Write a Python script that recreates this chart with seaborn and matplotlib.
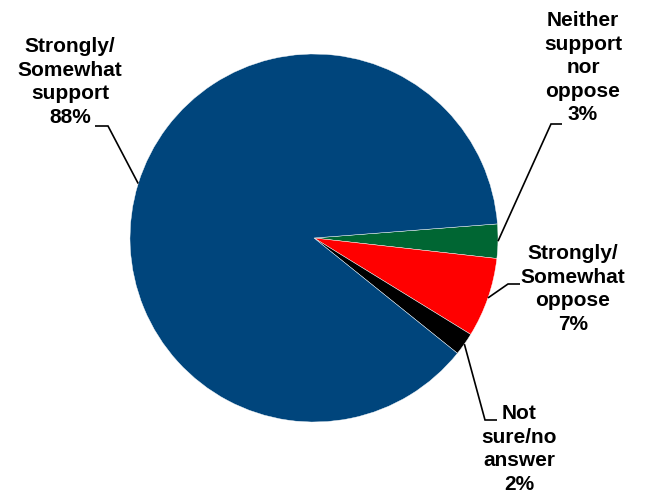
import numpy as np
import matplotlib
matplotlib.use("Agg")
import matplotlib.pyplot as plt
import seaborn as sns

# Data
labels = ["Neither\nsupport\nnor\noppose\n3%",
          "Strongly/\nSomewhat\noppose\n7%",
          "Not\nsure/no\nanswer\n2%",
          "Strongly/\nSomewhat\nsupport\n88%"]
values = [3, 7, 2, 88]
colors = ["#006633", "#FF0000", "#000000", "#00457C"]

sns.set_theme(style="white")
plt.rcParams['font.family'] = ['Liberation Sans', 'DejaVu Sans']

W, H = 645, 498
CX, CY, R = 314, 238, 184  # pie centre and radius in pixels


def px(x, y):
    # pixel position -> data coords (pie radius = 1)
    return (x - CX) / R, (CY - y) / R


fig = plt.figure(figsize=(W / 100, H / 100), dpi=100)
ax = fig.add_axes([0, 0, 1, 1])
wedges, _ = ax.pie(values, colors=colors, startangle=4.4, counterclock=False,
                   radius=1, center=(0, 0),
                   wedgeprops=dict(edgecolor="white", linewidth=0.3))
ax.set_xlim(px(0, 0)[0], px(W, 0)[0])
ax.set_ylim(px(0, H)[1], px(0, 0)[1])
ax.set_aspect("auto")
ax.axis("off")

# label centre, elbow point, line end (pixels)
layout = [
    ((583, 68), (551, 124), (562, 124)),
    ((573, 289), (508, 284), (520, 284)),
    ((519, 449), (485, 420), (497, 420)),
    ((70, 82), (108, 126), (95, 126)),
]

for w, lab, (txt, elbow, end) in zip(wedges, labels, layout):
    mid = np.deg2rad((w.theta1 + w.theta2) / 2)
    x0, y0 = np.cos(mid), np.sin(mid)
    ex, ey = px(*elbow)
    fx, fy = px(*end)
    ax.plot([x0, ex, fx], [y0, ey, fy], color="black", lw=1.2,
            solid_capstyle="butt", solid_joinstyle="miter")
    tx, ty = px(*txt)
    ax.text(tx, ty, lab, ha="center", va="center", fontsize=15,
            fontweight="bold", linespacing=1.3, color="black")

fig.savefig("out.png", dpi=100)
